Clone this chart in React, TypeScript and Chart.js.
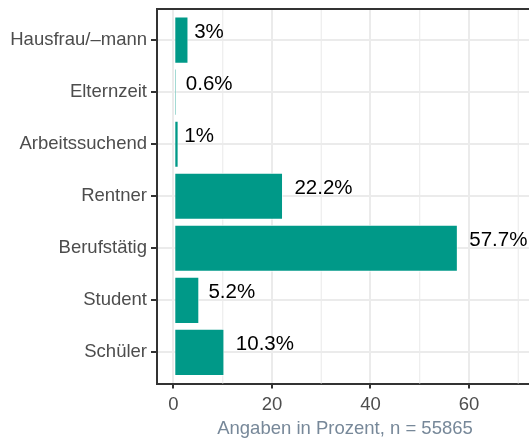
import { useEffect, useRef } from 'react';
import { Chart, registerables } from 'chart.js';

Chart.register(...registerables);

const categories = ['Hausfrau/\u2013mann', 'Elternzeit', 'Arbeitssuchend', 'Rentner', 'Berufstätig', 'Student', 'Schüler'];
const shares = [3, 0.6, 1, 22.2, 57.7, 5.2, 10.3];
const shareLabels = ['3%', '0.6%', '1%', '22.2%', '57.7%', '5.2%', '10.3%'];
const xMajorTicks = [0, 20, 40, 60];
const xMinorTicks = [10, 30, 50, 70];
const xTitle = 'Angaben in Prozent, n = 55865';

const FONT = '"Liberation Sans", Arial, Helvetica, sans-serif';
const BAR = '#009988';
const GRID = '#ebebeb';
const AXIS = '#333333';

const extrasPlugin = {
  id: 'extras',
  beforeDatasetsDraw(chart: any) {
    const { ctx, chartArea, scales } = chart;
    const xs = scales.x;
    ctx.save();
    ctx.strokeStyle = GRID;
    ctx.lineWidth = 1.1;
    for (const v of xMinorTicks) {
      const px = xs.getPixelForValue(v);
      ctx.beginPath();
      ctx.moveTo(px, chartArea.top);
      ctx.lineTo(px, chartArea.bottom);
      ctx.stroke();
    }
    ctx.restore();
  },
  afterDatasetsDraw(chart: any) {
    const { ctx, chartArea, scales } = chart;
    const xs = scales.x;
    const ys = scales.y;
    ctx.save();
    ctx.font = `20.5px ${FONT}`;
    ctx.fillStyle = '#000000';
    ctx.textAlign = 'left';
    ctx.textBaseline = 'middle';
    shares.forEach((v, i) => {
      const label = shareLabels[i];
      const w = ctx.measureText(label).width;
      const x = xs.getPixelForValue(v) + 0.2 * w;
      const y = ys.getPixelForValue(i) - 8;
      ctx.fillText(label, x, y);
    });
    // top panel border
    ctx.strokeStyle = AXIS;
    ctx.lineWidth = 2;
    ctx.beginPath();
    ctx.moveTo(chartArea.left - 1, chartArea.top);
    ctx.lineTo(chartArea.right, chartArea.top);
    ctx.stroke();
    ctx.restore();
  },
};

export default function App() {
  const canvasRef = useRef<HTMLCanvasElement | null>(null);

  useEffect(() => {
    if (!canvasRef.current) return;
    const chart = new Chart(canvasRef.current, {
      type: 'bar',
      data: {
        datasets: [
          {
            data: shares.map((v, i) => ({ x: v, y: i })),
            backgroundColor: BAR,
            borderColor: '#ffffff',
            borderWidth: 0.8,
            borderSkipped: false,
            barPercentage: 0.9,
            categoryPercentage: 1,
          },
        ],
      },
      options: {
        animation: false,
        responsive: true,
        maintainAspectRatio: false,
        indexAxis: 'y',
        layout: { padding: { top: 9, left: 0, right: 0, bottom: 0 } },
        plugins: { legend: { display: false }, tooltip: { enabled: false } },
        scales: {
          x: {
            type: 'linear',
            min: -3.35,
            max: 73.0,
            afterBuildTicks: (s: any) => {
              s.ticks = xMajorTicks.map((v) => ({ value: v }));
            },
            afterFit: (s: any) => {
              s.height = 54.5;
              s.paddingLeft = 0;
              s.paddingRight = 0;
            },
            grid: { color: GRID, lineWidth: 2, tickColor: AXIS, tickLength: 5, tickWidth: 2 },
            border: { display: true, color: AXIS, width: 2 },
            ticks: { color: '#4d4d4d', font: { size: 18.5, family: FONT }, padding: 5, maxRotation: 0 },
            title: {
              display: true,
              text: xTitle,
              color: '#778899',
              font: { size: 18.5, family: FONT, lineHeight: 1 },
              padding: { top: 0, bottom: 0 },
            },
          },
          y: {
            type: 'linear',
            reverse: true,
            offset: false,
            min: -0.6,
            max: 6.6,
            afterBuildTicks: (s: any) => {
              s.ticks = categories.map((_, i) => ({ value: i }));
            },
            afterFit: (s: any) => {
              s.width = 157;
              s.paddingTop = 0;
              s.paddingBottom = 0;
            },
            grid: { offset: false, color: GRID, lineWidth: 2, tickColor: AXIS, tickLength: 6, tickWidth: 2 },
            border: { display: true, color: AXIS, width: 2 },
            ticks: {
              color: '#4d4d4d',
              font: { size: 18.5, family: FONT },
              padding: 4,
              callback: (v: any) => categories[v as number] ?? '',
            },
          },
        },
      },
      plugins: [extrasPlugin],
    } as any);
    return () => chart.destroy();
  }, []);

  return (
    <div style={{ position: 'fixed', left: 0, top: 0, width: 529, height: 438, overflow: 'hidden', background: '#ffffff' }}>
      <div style={{ position: 'relative', width: 533, height: 438 }}>
        <canvas ref={canvasRef} />
      </div>
    </div>
  );
}
